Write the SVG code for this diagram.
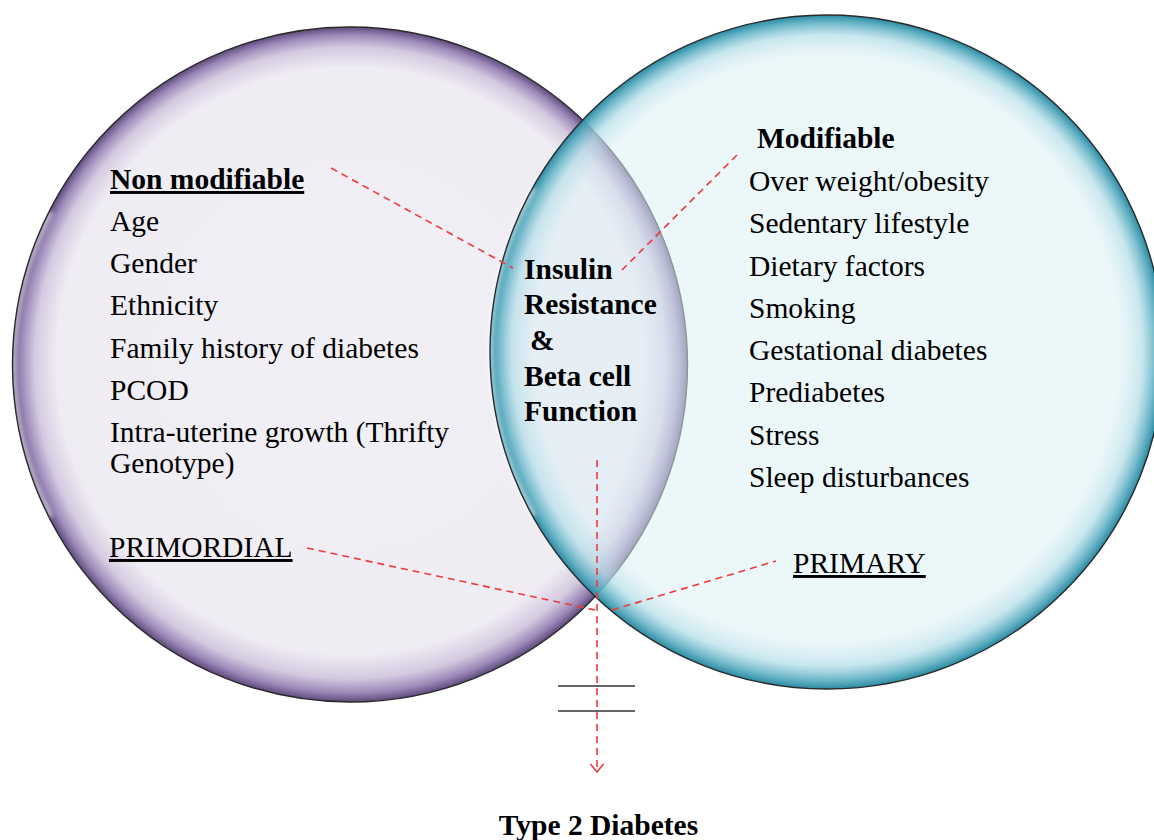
<svg xmlns="http://www.w3.org/2000/svg" width="1154" height="840" viewBox="0 0 1154 840">
<style>
text{font-family:"Liberation Serif","Times New Roman",serif;font-size:29.5px;fill:#000}
.b{font-weight:bold}
.u{text-decoration:underline}
.dash{fill:none;stroke:#f03a3a;stroke-width:1.6;stroke-dasharray:7 5}
.bar{stroke:#333;stroke-width:1.6}
.outline{fill:none;stroke:#2a2a2a;stroke-width:1.4}
.hl{fill:none;stroke:#fff;stroke-width:5;stroke-linecap:round}
</style>
<defs>
<radialGradient id="gL" cx="0.5" cy="0.5" r="0.5" fx="0.5" fy="0.46">
<stop offset="0" stop-color="#f2f0f6"/>
<stop offset="0.87" stop-color="#efecf4"/>
<stop offset="0.935" stop-color="#d4cae0"/>
<stop offset="0.975" stop-color="#9c88b8"/>
<stop offset="1" stop-color="#5e4a7c"/>
</radialGradient>
<radialGradient id="gR" cx="0.5" cy="0.5" r="0.5" fx="0.5" fy="0.46">
<stop offset="0" stop-color="#dcf0f5" stop-opacity="0.55"/>
<stop offset="0.87" stop-color="#dcf0f5" stop-opacity="0.55"/>
<stop offset="0.935" stop-color="#b6dfe9" stop-opacity="0.75"/>
<stop offset="0.975" stop-color="#5fb0c4" stop-opacity="0.9"/>
<stop offset="1" stop-color="#2a8aa2" stop-opacity="1"/>
</radialGradient>
<filter id="blur" x="-0.3" y="-0.3" width="1.6" height="1.6"><feGaussianBlur stdDeviation="2"/></filter>
<marker id="arr" markerUnits="userSpaceOnUse" markerWidth="20" markerHeight="20" viewBox="-10 -10 20 20" refX="0" refY="0" orient="auto">
<path d="M-8,-6.5 L0,0 L-8,6.5" fill="none" stroke="#f03a3a" stroke-width="1.6"/>
</marker>
</defs>

<g id="left-circle">
<circle cx="350" cy="364.5" r="337.5" fill="url(#gL)"/>
<path class="hl" filter="url(#blur)" opacity="0.6" d="M 50,214 A 330 330 0 0 0 50,515"/>
<circle class="outline" cx="350" cy="364.5" r="337.5"/>
</g>

<g id="right-circle">
<circle cx="827" cy="352" r="337" fill="url(#gR)"/>
<path class="hl" filter="url(#blur)" opacity="0.6" d="M 533,190 A 330 330 0 0 0 533,514"/>
<circle class="outline" cx="827" cy="352" r="337"/>
</g>

<g id="connectors">
<line class="dash" x1="331" y1="168" x2="513" y2="268"/>
<line class="dash" x1="737" y1="155" x2="622" y2="270"/>
<line class="dash" x1="307" y1="548" x2="595" y2="610"/>
<line class="dash" x1="612" y1="610" x2="776" y2="561"/>
<line class="dash" x1="597" y1="460" x2="597" y2="772" marker-end="url(#arr)"/>
<line class="bar" x1="558" y1="686" x2="635" y2="686"/>
<line class="bar" x1="558" y1="711" x2="635" y2="711"/>
</g>

<g id="non-modifiable">
<text class="b u" x="110" y="189">Non modifiable</text>
<text x="110" y="231">Age</text>
<text x="110" y="273">Gender</text>
<text x="110" y="315">Ethnicity</text>
<text x="110" y="358">Family history of diabetes</text>
<text x="110" y="400">PCOD</text>
<text x="110" y="442">Intra-uterine growth (Thrifty</text>
<text x="110" y="473">Genotype)</text>
</g>

<g id="modifiable">
<text class="b" x="757" y="148">Modifiable</text>
<text x="749" y="191">Over weight/obesity</text>
<text x="749" y="233">Sedentary lifestyle</text>
<text x="749" y="276">Dietary factors</text>
<text x="749" y="318">Smoking</text>
<text x="749" y="360">Gestational diabetes</text>
<text x="749" y="402">Prediabetes</text>
<text x="749" y="445">Stress</text>
<text x="749" y="487">Sleep disturbances</text>
</g>

<g id="center">
<text class="b" x="524" y="279">Insulin</text>
<text class="b" x="524" y="314">Resistance</text>
<text class="b" x="530" y="350">&amp;</text>
<text class="b" x="524" y="386">Beta cell</text>
<text class="b" x="524" y="421">Function</text>
</g>

<g id="primordial">
<text class="u" x="109" y="557">PRIMORDIAL</text>
</g>
<g id="primary">
<text class="u" x="793" y="573">PRIMARY</text>
</g>
<g id="outcome">
<text class="b" x="598.5" y="835" text-anchor="middle">Type 2 Diabetes</text>
</g>
</svg>
